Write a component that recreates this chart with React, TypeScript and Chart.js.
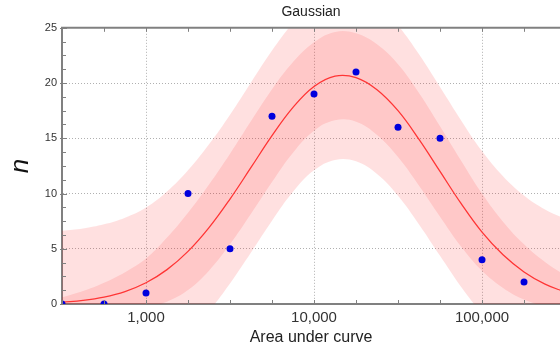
import { useEffect, useRef } from 'react';
import { Chart, registerables } from 'chart.js';

Chart.register(...registerables);

// Observed data points
const pointX = [316.23, 562.34, 1000, 1778.3, 3162.3, 5623.4, 10000, 17783, 31623, 56234, 100000, 177828];
const pointY = [0, 0, 1, 10, 5, 17, 19, 21, 16, 15, 4, 2];

// Fitted curve and bands, read at 1/8-decade steps
const curveX = [316.23, 421.7, 562.34, 749.89, 1000, 1333.5, 1778.3, 2371.4, 3162.3, 4217.0, 5623.4, 7498.9,
  10000, 13335, 17783, 23714, 31623, 42170, 56234, 74989, 100000, 133352, 177828, 237137, 316228];
const fitY = [0.16, 0.33, 0.63, 1.13, 1.92, 3.11, 4.76, 6.91, 9.5, 12.36, 15.24, 17.8,
  19.69, 20.63, 20.5, 19.4, 17.5, 14.9, 12.0, 9.1, 6.5, 4.45, 2.9, 1.8, 1.05];
const ciHalf = [0.45, 0.85, 1.3, 1.75, 2.2, 2.9, 3.5, 3.9, 4.1, 4.2, 4.2, 4.1,
  4.0, 4.0, 4.0, 4.1, 4.2, 4.2, 4.1, 3.9, 3.5, 3.0, 2.5, 2.0, 1.5];
const piHalf = [6.47, 6.51, 6.58, 6.68, 6.81, 7.07, 7.34, 7.54, 7.64, 7.7, 7.7, 7.64,
  7.59, 7.59, 7.59, 7.64, 7.7, 7.7, 7.64, 7.54, 7.34, 7.11, 6.92, 6.75, 6.62];

// Axes
const xTickValues = [316.23, 562.34, 1000, 1778.3, 3162.3, 5623.4, 10000, 17783, 31623, 56234, 100000, 177828];
const xTickLabels = ['', '', '1,000', '', '', '', '10,000', '', '', '', '100,000', ''];
const yTickValues = [0, 5, 10, 15, 20, 25];
const yMinorTicks = [1.25, 2.5, 3.75, 6.25, 7.5, 8.75, 11.25, 12.5, 13.75, 16.25, 17.5, 18.75, 21.25, 22.5, 23.75];
const xMin = 316.23;
const xMax = 291200;

export default function App() {
  const ref = useRef<HTMLCanvasElement>(null);

  useEffect(() => {
    document.body.style.margin = '0';
    Chart.defaults.font.family = "'Liberation Sans', Arial, sans-serif";
    const toXY = (ys: number[]) => curveX.map((x, i) => ({ x, y: ys[i] }));
    const ciUpper = fitY.map((v, i) => v + ciHalf[i]);
    const ciLower = fitY.map((v, i) => v - ciHalf[i]);
    const piUpper = fitY.map((v, i) => v + piHalf[i]);
    const piLower = fitY.map((v, i) => v - piHalf[i]);

    const innerTicks = {
      id: 'innerTicks',
      afterDraw(chart: any) {
        const { ctx, chartArea: a, scales } = chart;
        const xs = scales.x;
        const ys = scales.y;
        ctx.save();
        ctx.strokeStyle = '#808080';
        ctx.lineWidth = 1;
        ctx.beginPath();
        xTickValues.forEach((v) => {
          const px = Math.round(xs.getPixelForValue(v)) + 0.5;
          ctx.moveTo(px, a.top);
          ctx.lineTo(px, a.top + 4);
          ctx.moveTo(px, a.bottom);
          ctx.lineTo(px, a.bottom - 4);
        });
        yMinorTicks.forEach((v) => {
          const py = Math.round(ys.getPixelForValue(v)) + 0.5;
          ctx.moveTo(a.left, py);
          ctx.lineTo(a.left + 4, py);
        });
        yTickValues.forEach((v) => {
          const py = Math.round(ys.getPixelForValue(v)) + 0.5;
          ctx.moveTo(a.left - 2, py);
          ctx.lineTo(a.left + 5, py);
        });
        ctx.stroke();
        ctx.lineWidth = 2;
        ctx.beginPath();
        ctx.moveTo(a.left - 1, a.top);
        ctx.lineTo(a.right, a.top);
        ctx.stroke();
        ctx.restore();
      },
    };

    const chart = new Chart(ref.current!, {
      type: 'line',
      data: {
        datasets: [
          {
            label: 'data',
            data: pointX.map((x, i) => ({ x, y: pointY[i] })),
            showLine: false,
            pointRadius: 3.5,
            pointBackgroundColor: '#0000dd',
            pointBorderWidth: 0,
            clip: 0,
            order: 0,
          },
          {
            label: 'fit',
            data: toXY(fitY),
            borderColor: '#ff3535',
            borderWidth: 1.3,
            pointRadius: 0,
            tension: 0.4,
            fill: false,
            order: 1,
          },
          {
            label: 'ciUpper',
            data: toXY(ciUpper),
            borderWidth: 0,
            pointRadius: 0,
            tension: 0.4,
            fill: 3,
            backgroundColor: 'rgba(255,0,0,0.11)',
            order: 2,
          },
          {
            label: 'ciLower',
            data: toXY(ciLower),
            borderWidth: 0,
            pointRadius: 0,
            tension: 0.4,
            fill: false,
            order: 3,
          },
          {
            label: 'piUpper',
            data: toXY(piUpper),
            borderWidth: 0,
            pointRadius: 0,
            tension: 0.4,
            fill: 5,
            backgroundColor: 'rgba(255,0,0,0.12)',
            order: 4,
          },
          {
            label: 'piLower',
            data: toXY(piLower),
            borderWidth: 0,
            pointRadius: 0,
            tension: 0.4,
            fill: false,
            order: 5,
          },
        ],
      },
      options: {
        responsive: false,
        animation: false,
        events: [],
        layout: { padding: 0 },
        plugins: {
          legend: { display: false },
          tooltip: { enabled: false },
          title: {
            display: true,
            text: 'Gaussian',
            fullSize: false,
            color: '#222',
            font: { size: 14, weight: 'normal' },
            padding: { top: 4, bottom: 7 },
          },
        },
        scales: {
          x: {
            type: 'logarithmic',
            min: xMin,
            max: xMax,
            afterBuildTicks: (s: any) => {
              s.ticks = xTickValues.map((v) => ({ value: v }));
            },
            afterFit: (s: any) => {
              s.height = 48;
              s.paddingRight = 0;
            },
            ticks: {
              autoSkip: false,
              maxRotation: 0,
              padding: 5,
              color: '#333',
              font: { size: 15 },
              callback: (_v: any, i: number) => xTickLabels[i] ?? '',
            },
            grid: {
              drawTicks: false,
              lineWidth: 1,
              color: (c: any) => (xTickLabels[c.index] ? '#b0b0b0' : 'rgba(0,0,0,0)'),
            },
            border: { color: '#808080', width: 2, dash: [1, 2] },
            title: {
              display: true,
              text: 'Area under curve',
              color: '#222',
              font: { size: 16 },
              padding: { top: 0, bottom: 5 },
            },
          },
          y: {
            min: 0,
            max: 25,
            afterFit: (s: any) => {
              s.width = 62;
            },
            ticks: {
              stepSize: 5,
              padding: 5,
              color: '#333',
              font: { size: 11 },
            },
            grid: {
              drawTicks: false,
              lineWidth: 1,
              color: (c: any) =>
                c.tick && c.tick.value > 0 && c.tick.value < 25 ? '#b0b0b0' : 'rgba(0,0,0,0)',
            },
            border: { color: '#808080', width: 2, dash: [1, 2] },
            title: {
              display: true,
              text: 'n',
              color: '#111',
              font: { size: 26, style: 'italic' },
              padding: { top: 5, bottom: 0 },
            },
          },
        },
      },
      plugins: [innerTicks],
    } as any);

    return () => chart.destroy();
  }, []);

  return (
    <div style={{ width: 560, height: 352, overflow: 'hidden' }}>
      <canvas ref={ref} width={564} height={352} style={{ display: 'block' }} />
    </div>
  );
}
